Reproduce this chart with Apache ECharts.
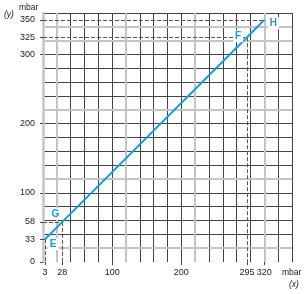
<!DOCTYPE html>
<html>
<head>
<meta charset="utf-8">
<script src="https://cdn.jsdelivr.net/npm/echarts@6/dist/echarts.min.js"></script>
<style>html,body{margin:0;padding:0;background:#fff;}#c{width:307px;height:294px;}</style>
</head>
<body>
<div id="c"></div>
<script>
// ---- data ----
const pointNames = ['E', 'G', 'F', 'H'];
const pointX = [3, 28, 295, 320];
const pointY = [33, 58, 325, 350];
const xTickLabels = [3, 28, 100, 200, 295, 320];
const yTickLabels = [0, 33, 58, 100, 200, 300, 325, 350];
const greyX = [20, 120, 220, 320];
const greyY = [20, 120, 220, 320, 340];
const axisMax = 360;
const gridStep = 20;

// ---- styles ----
const BLUE = '#1b9ad6';
const DARK = '#444';
const GREY = '#c4c4c4';
const FONT = 'Liberation Sans, Arial, sans-serif';
const labelOffsets = {E: [8, 5], G: [-7, -8], F: [-9, -1], H: [9, 3.5]};

const chart = echarts.init(document.getElementById('c'), null, {renderer: 'canvas'});

const lineData = pointX.map((x, i) => ({
  value: [x, pointY[i]],
  name: pointNames[i],
  label: {
    show: true,
    position: 'inside',
    offset: labelOffsets[pointNames[i]],
    formatter: pointNames[i],
    color: BLUE,
    fontWeight: 'bold',
    fontSize: 10,
    fontFamily: FONT,
    backgroundColor: '#fff',
    padding: [1, 2]
  }
}));

const dashed = [];
pointX.forEach((x, i) => {
  dashed.push([{coord: [0, pointY[i]]}, {coord: [x, pointY[i]]}]);
  if (pointNames[i] !== 'H') dashed.push([{coord: [x, pointY[i]]}, {coord: [x, 0]}]);
});

const greyLines = [];
greyX.forEach(v => greyLines.push([{coord: [v, 0]}, {coord: [v, axisMax]}]));
greyY.forEach(v => greyLines.push([{coord: [0, v]}, {coord: [axisMax, v]}]));

function ml(data, style, z) {
  return {
    type: 'line', data: [], z: z, silent: true,
    markLine: {silent: true, z: z, symbol: 'none', label: {show: false}, animation: false,
      emphasis: {disabled: true}, lineStyle: style, data: data}
  };
}

function gridAxis(pos) {
  return {
    type: 'value', min: 0, max: axisMax, interval: gridStep, position: pos,
    axisLine: {show: false}, axisTick: {show: false}, axisLabel: {show: false},
    splitLine: {show: true, showMinLine: false, lineStyle: {color: DARK, width: 1}}
  };
}

chart.setOption({
  animation: false,
  grid: {left: 43, top: 13, right: 15, bottom: 32},
  xAxis: [
    {
      type: 'value', min: 0, max: axisMax, position: 'bottom',
      axisLine: {show: false},
      axisTick: {show: true, customValues: xTickLabels, length: 3, lineStyle: {color: DARK}},
      axisLabel: {customValues: xTickLabels, color: '#222', fontSize: 9, fontFamily: FONT, margin: 6},
      splitLine: {show: false}
    },
    gridAxis('top')
  ],
  yAxis: [
    {
      type: 'value', min: 0, max: axisMax, position: 'left',
      axisLine: {show: true, lineStyle: {color: GREY, width: 2.5}},
      axisTick: {show: true, customValues: yTickLabels, length: 3, lineStyle: {color: DARK}},
      axisLabel: {customValues: yTickLabels, color: '#222', fontSize: 9, fontFamily: FONT, margin: 8},
      splitLine: {show: false}
    },
    gridAxis('right')
  ],
  graphic: [
    {type: 'text', left: 19, top: 3, style: {text: 'mbar', fontSize: 8.5, fontFamily: FONT, fill: '#222'}},
    {type: 'text', left: 4, top: 10, style: {text: '(y)', fontSize: 8.5, fontStyle: 'italic', fontFamily: FONT, fill: '#222'}},
    {type: 'text', left: 282, top: 268, style: {text: 'mbar', fontSize: 8.5, fontFamily: FONT, fill: '#222'}},
    {type: 'text', left: 289, top: 280, style: {text: '(x)', fontSize: 8.5, fontStyle: 'italic', fontFamily: FONT, fill: '#222'}}
  ],
  series: [
    ml(greyLines, {color: GREY, width: 2, type: 'solid'}, 2),
    ml(dashed, {color: '#555', width: 1, type: [4, 2]}, 3),
    {
      type: 'line', z: 10, data: lineData,
      symbol: 'circle', symbolSize: 1, showSymbol: true,
      itemStyle: {color: BLUE},
      lineStyle: {color: BLUE, width: 2, type: 'solid'}
    }
  ]
});
</script>
</body>
</html>
